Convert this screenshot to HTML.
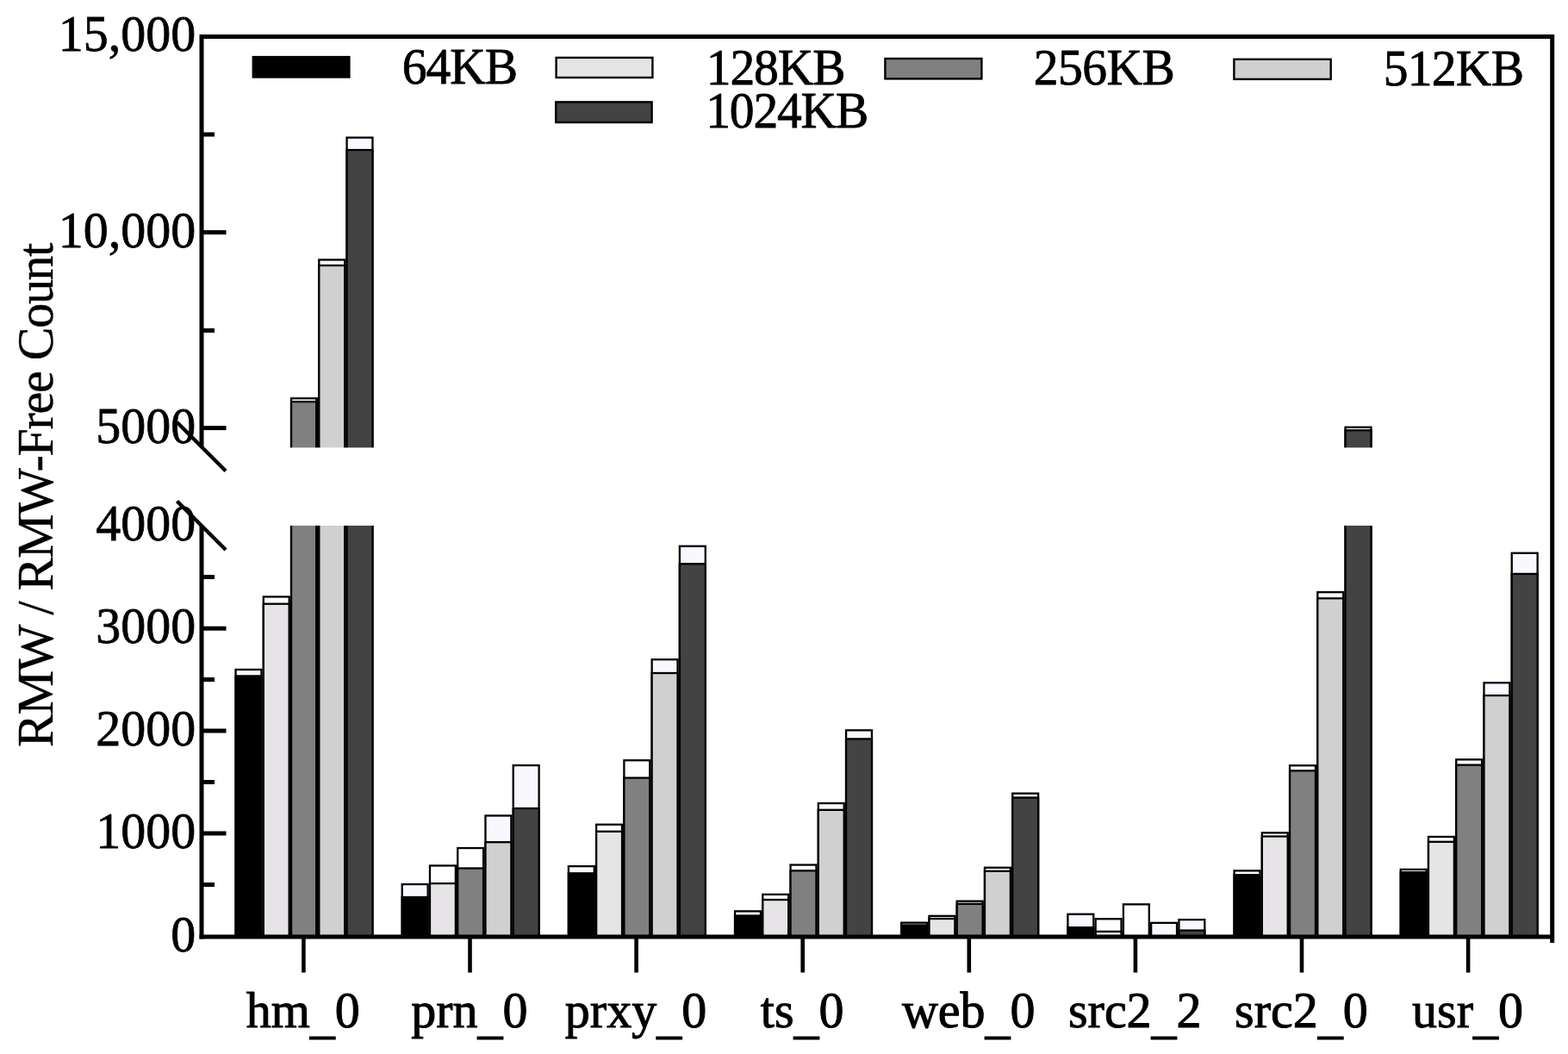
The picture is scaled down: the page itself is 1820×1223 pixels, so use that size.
<!DOCTYPE html>
<html lang="en"><head><meta charset="utf-8"><title>RMW / RMW-Free Count</title>
<style>html,body{margin:0;padding:0;background:#fff}body{width:1820px;height:1223px;overflow:hidden}svg{display:block}text{font-family:'Liberation Serif', serif;fill:#000;stroke:#000;stroke-linejoin:round}</style>
</head><body>
<svg width="1820" height="1223" viewBox="0 0 1820 1223">
<rect x="0" y="0" width="1820" height="1223" fill="#ffffff"/>
<g stroke="#000" stroke-width="2.3">
<rect x="273.55" y="776.95" width="29.90" height="310.05" fill="#f8f8ff"/>
<rect x="273.55" y="784.40" width="29.90" height="302.60" fill="#000000"/>
<rect x="305.80" y="692.45" width="29.90" height="394.55" fill="#ffffff"/>
<rect x="305.80" y="700.70" width="29.90" height="386.30" fill="#e6e4e6"/>
<rect x="338.05" y="462.25" width="29.90" height="624.75" fill="#ffffff"/>
<rect x="338.05" y="466.10" width="29.90" height="620.90" fill="#808080"/>
<rect x="370.30" y="301.45" width="29.90" height="785.55" fill="#f8f8ff"/>
<rect x="370.30" y="308.00" width="29.90" height="779.00" fill="#d0d0d0"/>
<rect x="402.55" y="159.65" width="29.90" height="927.35" fill="#f8f8ff"/>
<rect x="402.55" y="174.00" width="29.90" height="913.00" fill="#434343"/>
<rect x="466.72" y="1026.05" width="29.90" height="60.95" fill="#f8f8ff"/>
<rect x="466.72" y="1041.00" width="29.90" height="46.00" fill="#000000"/>
<rect x="498.97" y="1004.45" width="29.90" height="82.55" fill="#ffffff"/>
<rect x="498.97" y="1025.10" width="29.90" height="61.90" fill="#e6e4e6"/>
<rect x="531.22" y="984.05" width="29.90" height="102.95" fill="#ffffff"/>
<rect x="531.22" y="1007.50" width="29.90" height="79.50" fill="#808080"/>
<rect x="563.47" y="946.45" width="29.90" height="140.55" fill="#f8f8ff"/>
<rect x="563.47" y="977.20" width="29.90" height="109.80" fill="#d0d0d0"/>
<rect x="595.72" y="888.05" width="29.90" height="198.95" fill="#f8f8ff"/>
<rect x="595.72" y="938.00" width="29.90" height="149.00" fill="#434343"/>
<rect x="659.89" y="1005.15" width="29.90" height="81.85" fill="#f8f8ff"/>
<rect x="659.89" y="1013.30" width="29.90" height="73.70" fill="#000000"/>
<rect x="692.14" y="956.75" width="29.90" height="130.25" fill="#ffffff"/>
<rect x="692.14" y="964.80" width="29.90" height="122.20" fill="#e6e4e6"/>
<rect x="724.39" y="882.25" width="29.90" height="204.75" fill="#ffffff"/>
<rect x="724.39" y="902.60" width="29.90" height="184.40" fill="#808080"/>
<rect x="756.64" y="765.25" width="29.90" height="321.75" fill="#f8f8ff"/>
<rect x="756.64" y="781.00" width="29.90" height="306.00" fill="#d0d0d0"/>
<rect x="788.89" y="633.75" width="29.90" height="453.25" fill="#f8f8ff"/>
<rect x="788.89" y="654.30" width="29.90" height="432.70" fill="#434343"/>
<rect x="853.06" y="1057.35" width="29.90" height="29.65" fill="#f8f8ff"/>
<rect x="853.06" y="1062.50" width="29.90" height="24.50" fill="#000000"/>
<rect x="885.31" y="1037.85" width="29.90" height="49.15" fill="#ffffff"/>
<rect x="885.31" y="1044.00" width="29.90" height="43.00" fill="#e6e4e6"/>
<rect x="917.56" y="1003.55" width="29.90" height="83.45" fill="#ffffff"/>
<rect x="917.56" y="1010.30" width="29.90" height="76.70" fill="#808080"/>
<rect x="949.81" y="932.05" width="29.90" height="154.95" fill="#f8f8ff"/>
<rect x="949.81" y="939.80" width="29.90" height="147.20" fill="#d0d0d0"/>
<rect x="982.06" y="847.35" width="29.90" height="239.65" fill="#f8f8ff"/>
<rect x="982.06" y="857.40" width="29.90" height="229.60" fill="#434343"/>
<rect x="1046.23" y="1070.65" width="29.90" height="16.35" fill="#f8f8ff"/>
<rect x="1046.23" y="1073.50" width="29.90" height="13.50" fill="#000000"/>
<rect x="1078.48" y="1062.85" width="29.90" height="24.15" fill="#ffffff"/>
<rect x="1078.48" y="1066.00" width="29.90" height="21.00" fill="#e6e4e6"/>
<rect x="1110.73" y="1045.65" width="29.90" height="41.35" fill="#ffffff"/>
<rect x="1110.73" y="1048.80" width="29.90" height="38.20" fill="#808080"/>
<rect x="1142.98" y="1006.75" width="29.90" height="80.25" fill="#f8f8ff"/>
<rect x="1142.98" y="1010.80" width="29.90" height="76.20" fill="#d0d0d0"/>
<rect x="1175.23" y="920.65" width="29.90" height="166.35" fill="#f8f8ff"/>
<rect x="1175.23" y="925.50" width="29.90" height="161.50" fill="#434343"/>
<rect x="1239.40" y="1060.75" width="29.90" height="26.25" fill="#f8f8ff"/>
<rect x="1239.40" y="1076.20" width="29.90" height="10.80" fill="#000000"/>
<rect x="1271.65" y="1066.25" width="29.90" height="20.75" fill="#ffffff"/>
<rect x="1271.65" y="1080.90" width="29.90" height="6.10" fill="#e6e4e6"/>
<rect x="1303.90" y="1049.35" width="29.90" height="37.65" fill="#ffffff"/>
<rect x="1336.15" y="1070.85" width="29.90" height="16.15" fill="#f8f8ff"/>
<rect x="1368.40" y="1067.15" width="29.90" height="19.85" fill="#f8f8ff"/>
<rect x="1368.40" y="1079.60" width="29.90" height="7.40" fill="#434343"/>
<rect x="1432.57" y="1010.35" width="29.90" height="76.65" fill="#f8f8ff"/>
<rect x="1432.57" y="1015.20" width="29.90" height="71.80" fill="#000000"/>
<rect x="1464.82" y="966.35" width="29.90" height="120.65" fill="#ffffff"/>
<rect x="1464.82" y="970.50" width="29.90" height="116.50" fill="#e6e4e6"/>
<rect x="1497.07" y="888.25" width="29.90" height="198.75" fill="#ffffff"/>
<rect x="1497.07" y="894.30" width="29.90" height="192.70" fill="#808080"/>
<rect x="1529.32" y="687.15" width="29.90" height="399.85" fill="#f8f8ff"/>
<rect x="1529.32" y="694.30" width="29.90" height="392.70" fill="#d0d0d0"/>
<rect x="1561.57" y="495.75" width="29.90" height="591.25" fill="#f8f8ff"/>
<rect x="1561.57" y="499.30" width="29.90" height="587.70" fill="#434343"/>
<rect x="1625.74" y="1008.85" width="29.90" height="78.15" fill="#f8f8ff"/>
<rect x="1625.74" y="1012.10" width="29.90" height="74.90" fill="#000000"/>
<rect x="1657.99" y="970.95" width="29.90" height="116.05" fill="#ffffff"/>
<rect x="1657.99" y="976.80" width="29.90" height="110.20" fill="#e6e4e6"/>
<rect x="1690.24" y="881.35" width="29.90" height="205.65" fill="#ffffff"/>
<rect x="1690.24" y="887.60" width="29.90" height="199.40" fill="#808080"/>
<rect x="1722.49" y="792.25" width="29.90" height="294.75" fill="#f8f8ff"/>
<rect x="1722.49" y="807.00" width="29.90" height="280.00" fill="#d0d0d0"/>
<rect x="1754.74" y="641.75" width="29.90" height="445.25" fill="#f8f8ff"/>
<rect x="1754.74" y="665.90" width="29.90" height="421.10" fill="#434343"/>
</g>
<rect x="366" y="462" width="4" height="624" fill="#000"/>
<rect x="237" y="519.4" width="1562" height="90.5" fill="#fff"/>
<g stroke="#000" stroke-width="5" fill="none" stroke-linecap="butt">
<path d="M234 518.5 V42.5 H1801.7 V1094"/><path d="M231.5 1087 H1801"/>
<path d="M234 609.3 V1089.5"/>
<path d="M205.5 490 L262 546.5 M205.5 581.5 L262 638" stroke-width="4.4"/>
<path d="M234 42.5 H262.5"/>
<path d="M234 269.6 H262.5"/>
<path d="M234 496.6 H262.5"/>
<path d="M234 729.2 H262.5"/>
<path d="M234 848.0 H262.5"/>
<path d="M234 967.0 H262.5"/>
<path d="M234 156.0 H249"/>
<path d="M234 383.5 H249"/>
<path d="M234 669.5 H249"/>
<path d="M234 788.5 H249"/>
<path d="M234 907.5 H249"/>
<path d="M234 1026.5 H249"/>
<path d="M352.4 1087 V1128.5" stroke-width="4.6"/>
<path d="M545.5 1087 V1128.5" stroke-width="4.6"/>
<path d="M738.6 1087 V1128.5" stroke-width="4.6"/>
<path d="M931.7 1087 V1128.5" stroke-width="4.6"/>
<path d="M1124.8 1087 V1128.5" stroke-width="4.6"/>
<path d="M1317.9 1087 V1128.5" stroke-width="4.6"/>
<path d="M1511.0 1087 V1128.5" stroke-width="4.6"/>
<path d="M1704.1 1087 V1128.5" stroke-width="4.6"/>
</g>
<rect x="293.8" y="66.1" width="111.6" height="23.4" fill="#000000" stroke="#000" stroke-width="2.4"/>
<text transform="translate(466.8 97.2) scale(1 1.03)" font-size="57.5" letter-spacing="-1.00" stroke-width="0.8">64KB</text>
<rect x="645.6" y="66.9" width="111.8" height="23.1" fill="#e6e4e6" stroke="#000" stroke-width="2.4"/>
<text transform="translate(819.8 97.5) scale(1 1.03)" font-size="57.5" letter-spacing="-1.10" stroke-width="0.8">128KB</text>
<rect x="1027.4" y="68.0" width="112.0" height="23.4" fill="#808080" stroke="#000" stroke-width="2.4"/>
<text transform="translate(1199.8 98.1) scale(1 1.03)" font-size="57.5" letter-spacing="-0.50" stroke-width="0.8">256KB</text>
<rect x="1432.4" y="68.8" width="112.3" height="23.1" fill="#d0d0d0" stroke="#000" stroke-width="2.4"/>
<text transform="translate(1605.7 99.3) scale(1 1.03)" font-size="57.5" letter-spacing="-0.70" stroke-width="0.8">512KB</text>
<rect x="645.2" y="118.4" width="111.4" height="23.6" fill="#434343" stroke="#000" stroke-width="2.4"/>
<text transform="translate(819.2 148.3) scale(1 1.03)" font-size="57.5" letter-spacing="-1.14" stroke-width="0.8">1024KB</text>
<text transform="translate(227.3 59.2) scale(1 1.025)" font-size="58" text-anchor="end" stroke-width="0.75">15,000</text>
<text transform="translate(227.3 286.7) scale(1 1.025)" font-size="58" text-anchor="end" stroke-width="0.75">10,000</text>
<text transform="translate(227.3 513.7) scale(1 1.025)" font-size="58" text-anchor="end" stroke-width="0.75">5000</text>
<text transform="translate(227.3 627.2) scale(1 1.025)" font-size="58" text-anchor="end" stroke-width="0.75">4000</text>
<text transform="translate(227.3 746.2) scale(1 1.025)" font-size="58" text-anchor="end" stroke-width="0.75">3000</text>
<text transform="translate(227.3 865.2) scale(1 1.025)" font-size="58" text-anchor="end" stroke-width="0.75">2000</text>
<text transform="translate(227.3 984.2) scale(1 1.025)" font-size="58" text-anchor="end" stroke-width="0.75">1000</text>
<text transform="translate(227.3 1104.2) scale(1 1.025)" font-size="58" text-anchor="end" stroke-width="0.75">0</text>
<text transform="translate(351.8 1192) scale(1 1.03)" dy="0 0 5.5 -5.5" font-size="58" text-anchor="middle" stroke-width="1">hm_0</text>
<text transform="translate(544.9 1192) scale(1 1.03)" dy="0 0 0 5.5 -5.5" font-size="58" text-anchor="middle" stroke-width="1">prn_0</text>
<text transform="translate(738.0 1192) scale(1 1.03)" dy="0 0 0 0 5.5 -5.5" font-size="58" text-anchor="middle" stroke-width="1">prxy_0</text>
<text transform="translate(931.1 1192) scale(1 1.03)" dy="0 0 5.5 -5.5" font-size="58" text-anchor="middle" stroke-width="1">ts_0</text>
<text transform="translate(1124.2 1192) scale(1 1.03)" dy="0 0 0 5.5 -5.5" font-size="58" text-anchor="middle" stroke-width="1">web_0</text>
<text transform="translate(1317.3 1192) scale(1 1.03)" dy="0 0 0 0 5.5 -5.5" font-size="58" text-anchor="middle" stroke-width="1">src2_2</text>
<text transform="translate(1510.4 1192) scale(1 1.03)" dy="0 0 0 0 5.5 -5.5" font-size="58" text-anchor="middle" stroke-width="1">src2_0</text>
<text transform="translate(1703.5 1192) scale(1 1.03)" dy="0 0 0 5.5 -5.5" font-size="58" text-anchor="middle" stroke-width="1">usr_0</text>
<text transform="translate(61.2 866.9) rotate(-90) scale(1 1.02)" font-size="58" letter-spacing="-1.27" stroke-width="0.4">RMW / RMW-Free Count</text>
</svg></body></html>
